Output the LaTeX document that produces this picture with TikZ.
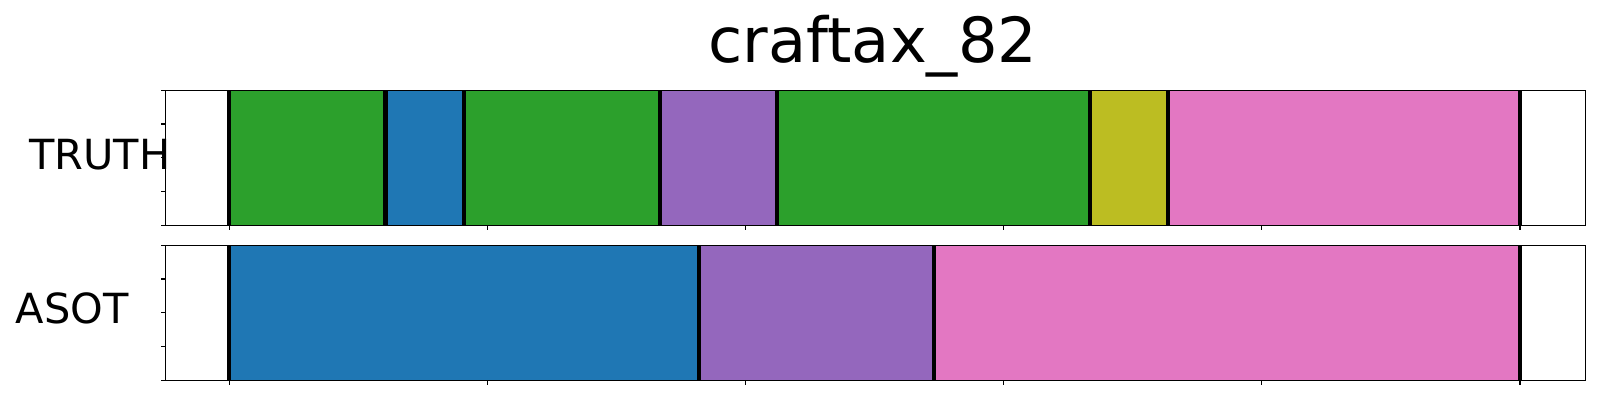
\documentclass[tikz,border=0pt]{standalone}
\usepackage{fontspec}
\setmainfont{DejaVu Sans}
\definecolor{tabblue}{HTML}{1F77B4}
\definecolor{tabgreen}{HTML}{2CA02C}
\definecolor{tabpurple}{HTML}{9467BD}
\definecolor{tabpink}{HTML}{E377C2}
\definecolor{tabolive}{HTML}{BCBD22}
\tikzset{
  seg/.style={fill=#1, draw=#1!85!black, line width=0.6pt},
  segline/.style={black, line width=3pt},
  axframe/.style={black, line width=0.8pt},
  axtick/.style={black, line width=0.8pt},
  rowlabel/.style={anchor=base west, inner sep=0pt, font=\fontsize{30}{36}\selectfont}
}

\begin{document}
\begin{tikzpicture}[x=0.0254cm, y=-0.0254cm]
    \useasboundingbox (0,0) rectangle (1600,400);
    \node[anchor=base, inner sep=0pt, font=\fontsize{45}{54}\selectfont] (title) at (873,63) {craftax\_82};
    % TRUTH
    \begin{scope}
      \draw[seg=tabgreen]  (229,90.3)   rectangle (385.5,225.3);
      \draw[seg=tabblue]   (385.5,90.3) rectangle (464,225.3);
      \draw[seg=tabgreen]  (464,90.3)   rectangle (660,225.3);
      \draw[seg=tabpurple] (660,90.3)   rectangle (777,225.3);
      \draw[seg=tabgreen]  (777,90.3)   rectangle (1090,225.3);
      \draw[seg=tabolive]  (1090,90.3)  rectangle (1168,225.3);
      \draw[seg=tabpink]   (1168,90.3)  rectangle (1520,225.3);
      \draw[segline] (229,90.3) -- (229,225.3);
      \draw[segline] (385.5,90.3) -- (385.5,225.3);
      \draw[segline] (464,90.3) -- (464,225.3);
      \draw[segline] (660,90.3) -- (660,225.3);
      \draw[segline] (777,90.3) -- (777,225.3);
      \draw[segline] (1090,90.3) -- (1090,225.3);
      \draw[segline] (1168,90.3) -- (1168,225.3);
      \draw[segline] (1520,90.3) -- (1520,225.3);
      \draw[axframe] (165.5,90.3) rectangle (1585.7,225.3);
      \draw[axtick] (165.5,90.3) -- +(-4.9,0);
      \draw[axtick] (165.5,124.05) -- +(-4.9,0);
      \draw[axtick] (165.5,157.8) -- +(-4.9,0);
      \draw[axtick] (165.5,191.55) -- +(-4.9,0);
      \draw[axtick] (165.5,225.3) -- +(-4.9,0);
      \draw[axtick] (229.3,225.3) -- +(0,4.9);
      \draw[axtick] (487.4,225.3) -- +(0,4.9);
      \draw[axtick] (745.6,225.3) -- +(0,4.9);
      \draw[axtick] (1003.7,225.3) -- +(0,4.9);
      \draw[axtick] (1261.9,225.3) -- +(0,4.9);
      \draw[axtick] (1520,225.3) -- +(0,4.9);
      \node[rowlabel] (truth) at (29,170) {TRUTH};
    \end{scope}
    % ASOT
    \begin{scope}[shift={(0,155)}]
      \draw[seg=tabblue]   (229,90.3)   rectangle (698.7,225.3);
      \draw[seg=tabpurple] (698.7,90.3) rectangle (933.7,225.3);
      \draw[seg=tabpink]   (933.7,90.3) rectangle (1520,225.3);
      \draw[segline] (229,90.3) -- (229,225.3);
      \draw[segline] (698.7,90.3) -- (698.7,225.3);
      \draw[segline] (933.7,90.3) -- (933.7,225.3);
      \draw[segline] (1520,90.3) -- (1520,225.3);
      \draw[axframe] (165.5,90.3) rectangle (1585.7,225.3);
      \draw[axtick] (165.5,90.3) -- +(-4.9,0);
      \draw[axtick] (165.5,124.05) -- +(-4.9,0);
      \draw[axtick] (165.5,157.8) -- +(-4.9,0);
      \draw[axtick] (165.5,191.55) -- +(-4.9,0);
      \draw[axtick] (165.5,225.3) -- +(-4.9,0);
      \draw[axtick] (229.3,225.3) -- +(0,4.9);
      \draw[axtick] (487.4,225.3) -- +(0,4.9);
      \draw[axtick] (745.6,225.3) -- +(0,4.9);
      \draw[axtick] (1003.7,225.3) -- +(0,4.9);
      \draw[axtick] (1261.9,225.3) -- +(0,4.9);
      \draw[axtick] (1520,225.3) -- +(0,4.9);
      \node[rowlabel] (asot) at (15.5,168.5) {ASOT};
    \end{scope}
\end{tikzpicture}
\end{document}
